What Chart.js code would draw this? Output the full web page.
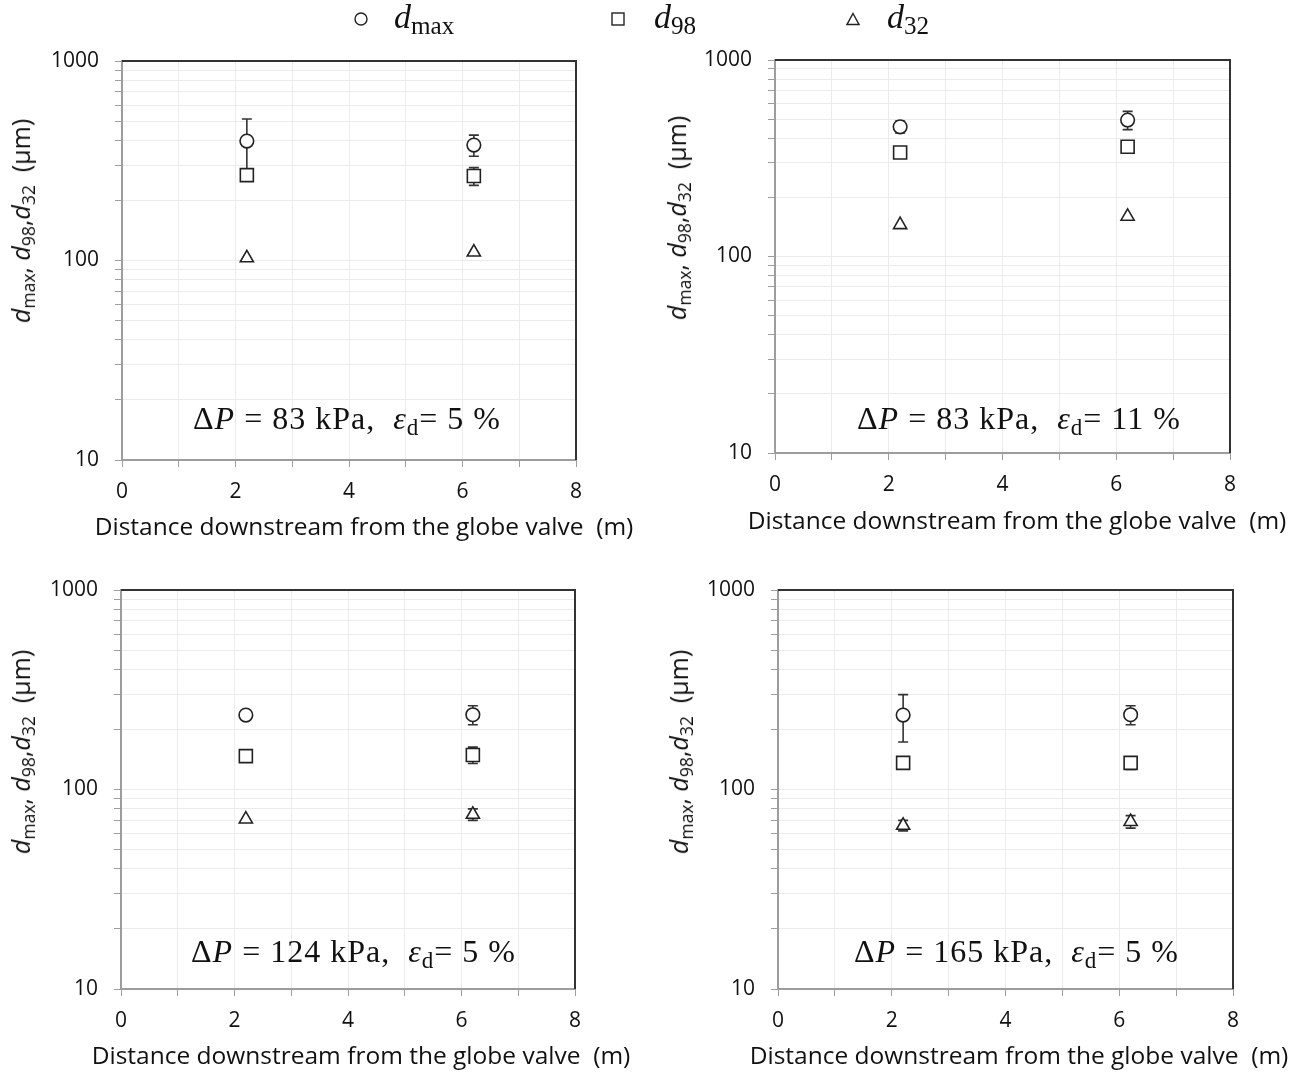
<!DOCTYPE html>
<html>
<head>
<meta charset="utf-8">
<script src="https://cdn.jsdelivr.net/npm/chart.js@4.4.1/dist/chart.umd.min.js"></script>
<style>
  html, body { margin: 0; padding: 0; background: #fff; }
  body { position: relative; width: 1300px; height: 1072px; overflow: hidden; }
  canvas { position: absolute; }
  .legend-item { position: absolute; top: 0; height: 40px; font-family: "Liberation Serif", serif; font-size: 34px; color: #111; line-height: 40px; white-space: nowrap; }
  .legend-item svg { position: absolute; top: 12px; }
  .legend-item span { position: absolute; left: 40px; top: -3px; }
  .legend-item sub { font-style: normal; font-size: 0.74em; vertical-align: -0.22em; line-height: 0; }
  .ytitle { position: absolute; font-family: "Open Sans", sans-serif; font-size: 25px; color: #111; white-space: nowrap;
            transform: translate(-50%, -50%) rotate(-90deg); }
  .ytitle sub { font-size: 0.7em; vertical-align: -0.3em; line-height: 0; }
  .xtitle { position: absolute; font-family: "Open Sans", sans-serif; font-size: 24.5px; color: #111; white-space: nowrap;
            transform: translate(-50%, -50%); }
  .note { position: absolute; font-family: "Liberation Serif", serif; font-size: 32px; letter-spacing: 1px; color: #111; white-space: nowrap; transform: translateY(-50%); }
  .note sub { font-size: 0.72em; vertical-align: -0.3em; line-height: 0; }
</style>
</head>
<body>

<canvas id="c1"></canvas>
<canvas id="c2"></canvas>
<canvas id="c3"></canvas>
<canvas id="c4"></canvas>

<div class="legend-item" style="left:354px">
  <svg width="14" height="14"><circle cx="7" cy="7" r="6" fill="#fff" stroke="#222" stroke-width="1.4"/></svg>
  <span><i>d</i><sub>max</sub></span>
</div>
<div class="legend-item" style="left:611px">
  <svg width="14" height="14"><rect x="1" y="1" width="12" height="12" fill="#fff" stroke="#222" stroke-width="1.4"/></svg>
  <span style="left:43px"><i>d</i><sub>98</sub></span>
</div>
<div class="legend-item" style="left:846px">
  <svg width="14" height="14"><polygon points="7,1.5 13,12.5 1,12.5" fill="#fff" stroke="#222" stroke-width="1.4"/></svg>
  <span style="left:41px"><i>d</i><sub>32</sub></span>
</div>

<script>
// ── Données ──────────────────────────────────────────────────────────────
var distance = [2.2, 6.2];                     // m, position des deux prises
var xTicks   = [0, 1, 2, 3, 4, 5, 6, 7, 8];
var yTicks   = [10, 20, 30, 40, 50, 60, 70, 80, 90,
                100, 200, 300, 400, 500, 600, 700, 800, 900, 1000];

// une ligne par graphique (83 kPa 5 %, 83 kPa 11 %, 124 kPa 5 %, 165 kPa 5 %)
var dMax    = [[397, 379], [457, 495], [236, 237], [236, 237]];
var dMaxErr = [[115, 46],  [32, 53],   [0, 26],    [63, 26]];
var d98     = [[268, 265], [338, 362], [147, 149], [136, 136]];
var d98Err  = [[0, 27],    [0, 0],     [0, 14],    [0, 10]];
var d32     = [[103, 110], [145, 160], [71, 75],   [66, 69]];
var d32Err  = [[0, 0],     [0, 0],     [0, 5],     [4, 5]];

var pressure = [83, 83, 124, 165];   // kPa
var holdup   = [5, 11, 5, 5];        // %

// ── Mise en page des 4 graphiques ────────────────────────────────────────
// zone de tracé (L, T, R, B) en pixels page, bas du canvas (cb), positions des textes
var panels = [
    { cx: 0,   cw: 650, cb: 552,  L: 122, T: 61,  R: 576,  B: 460, xtX: 364,  xtY: 525,  ytX: 20,  ytY: 221, noteX: 193, noteY: 418 },
    { cx: 650, cw: 650, cb: 552,  L: 775, T: 60,  R: 1230, B: 453, xtX: 1017, xtY: 519,  ytX: 676, ytY: 218, noteX: 857, noteY: 418 },
    { cx: 0,   cw: 650, cb: 1072, L: 121, T: 590, R: 575,  B: 989, xtX: 361,  xtY: 1054, ytX: 20,  ytY: 752, noteX: 191, noteY: 951 },
    { cx: 650, cw: 650, cb: 1072, L: 778, T: 590, R: 1233, B: 989, xtX: 1019, xtY: 1054, ytX: 678, ytY: 752, noteX: 854, noteY: 951 }
];
var TOP_PAD = 30;   // marge au-dessus de la zone de tracé, dans le canvas

var tickFont  = { family: 'Open Sans', size: 21 };
var gridColor = '#ebebeb';
var axisColor = '#9d9d9d';
var inkColor  = '#222';

// ── Barres d'erreur (sous les marqueurs) ─────────────────────────────────
var errorBarPlugin = {
    id: 'errorBars',
    beforeDatasetsDraw: function (chart) {
        var ctx = chart.ctx;
        var xs = chart.scales.x, ys = chart.scales.y;
        ctx.save();
        ctx.strokeStyle = '#333';
        ctx.lineWidth = 1.6;
        chart.data.datasets.forEach(function (ds) {
            ds.data.forEach(function (pt, k) {
                var e = ds.errorBars[k];
                if (!e) return;
                var x  = xs.getPixelForValue(pt.x);
                var y1 = ys.getPixelForValue(pt.y + e);
                var y2 = ys.getPixelForValue(pt.y - e);
                ctx.beginPath();
                ctx.moveTo(x, y1); ctx.lineTo(x, y2);
                ctx.moveTo(x - 5, y1); ctx.lineTo(x + 5, y1);
                ctx.moveTo(x - 5, y2); ctx.lineTo(x + 5, y2);
                ctx.stroke();
            });
        });
        ctx.restore();
    }
};

// ── Cadre haut et droit ──────────────────────────────────────────────────
var framePlugin = {
    id: 'frame',
    afterDraw: function (chart) {
        var a = chart.chartArea, ctx = chart.ctx;
        ctx.save();
        ctx.strokeStyle = '#333';
        ctx.lineWidth = 2;
        ctx.beginPath();
        ctx.moveTo(a.left, a.top);
        ctx.lineTo(a.right, a.top);
        ctx.lineTo(a.right, a.bottom);
        ctx.stroke();
        ctx.restore();
    }
};

function series(values, errors, style, radius) {
    return {
        data: values.map(function (v, k) { return { x: distance[k], y: v }; }),
        errorBars: errors,
        pointStyle: style,
        pointRadius: radius,
        pointHoverRadius: radius,
        pointBackgroundColor: '#fff',
        pointBorderColor: inkColor,
        pointBorderWidth: 1.6,
        showLine: false
    };
}

function addText(cls, html, x, y) {
    var el = document.createElement('div');
    el.className = cls;
    el.innerHTML = html;
    el.style.left = x + 'px';
    el.style.top = y + 'px';
    document.body.appendChild(el);
}

function makeChart(i) {
    var p = panels[i];
    var cy = p.T - TOP_PAD;
    var ch = p.cb - cy;
    var canvas = document.getElementById('c' + (i + 1));
    canvas.width = p.cw;
    canvas.height = ch;
    canvas.style.left = p.cx + 'px';
    canvas.style.top = cy + 'px';
    canvas.style.width = p.cw + 'px';
    canvas.style.height = ch + 'px';

    var yW = p.L - p.cx;
    var xH = p.cb - p.B;

    new Chart(canvas, {
        type: 'scatter',
        data: {
            datasets: [
                series(dMax[i], dMaxErr[i], 'circle', 6.8),
                series(d98[i],  d98Err[i],  'rect', 9.2),
                series(d32[i],  d32Err[i],  'triangle', 7.6)
            ]
        },
        options: {
            responsive: false,
            animation: false,
            layout: { padding: { left: 0, top: TOP_PAD, right: p.cx + p.cw - p.R, bottom: 0 } },
            plugins: { legend: { display: false }, tooltip: { enabled: false } },
            scales: {
                x: {
                    type: 'linear', min: 0, max: 8,
                    afterBuildTicks: function (s) { s.ticks = xTicks.map(function (v) { return { value: v }; }); },
                    afterFit: function (s) { s.height = xH; },
                    ticks: {
                        autoSkip: false, maxRotation: 0, padding: 12, color: '#111', font: tickFont,
                        callback: function (v) { return v % 2 === 0 ? String(v) : ''; }
                    },
                    grid: { color: gridColor, tickColor: axisColor, tickLength: 7, lineWidth: 1 },
                    border: { color: axisColor, width: 2 }
                },
                y: {
                    type: 'logarithmic', min: 10, max: 1000,
                    afterBuildTicks: function (s) { s.ticks = yTicks.map(function (v) { return { value: v }; }); },
                    afterFit: function (s) { s.width = yW; },
                    ticks: {
                        autoSkip: false, padding: 16, color: '#111', font: tickFont,
                        callback: function (v) {
                            var e = Math.log10(v);
                            return Math.abs(e - Math.round(e)) < 1e-9 ? String(v) : '';
                        }
                    },
                    grid: { color: gridColor, tickColor: axisColor, tickLength: 7, lineWidth: 1 },
                    border: { color: axisColor, width: 2 }
                }
            }
        },
        plugins: [errorBarPlugin, framePlugin]
    });

    addText('xtitle', 'Distance downstream from the globe valve&nbsp; (m)', p.xtX, p.xtY);
    addText('ytitle',
        '<i>d</i><sub>max</sub>, <i>d</i><sub>98</sub>,<i>d</i><sub>32</sub>&nbsp; (\u03bcm)',
        p.ytX, p.ytY);
    addText('note',
        '\u0394<i>P</i> = ' + pressure[i] + ' kPa,&nbsp; <i>\u03b5</i><sub>d</sub>= ' + holdup[i] + ' %',
        p.noteX, p.noteY);
}

for (var i = 0; i < panels.length; i++) {
    makeChart(i);
}
</script>
</body>
</html>
